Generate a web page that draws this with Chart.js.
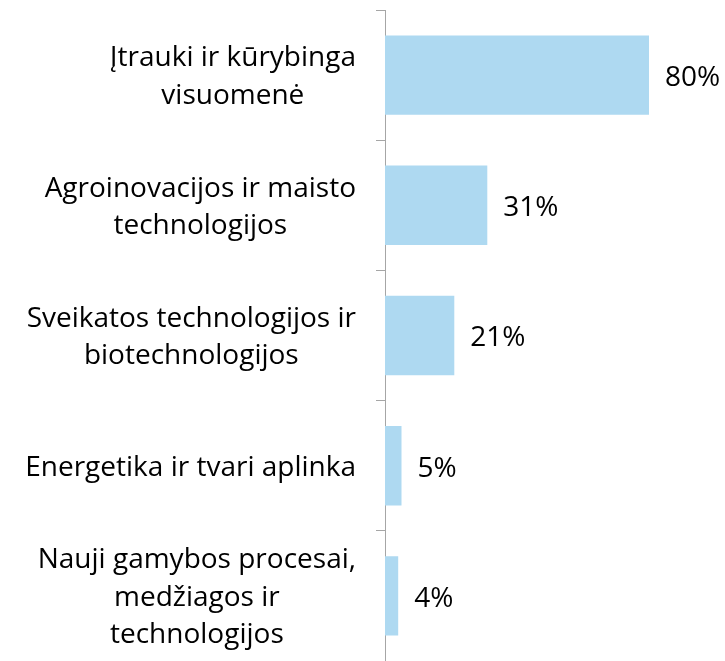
<!DOCTYPE html>
<html>
<head>
<meta charset="utf-8">
<script src="https://cdn.jsdelivr.net/npm/chart.js@4.4.0/dist/chart.umd.min.js"></script>
<style>
  html, body { margin: 0; padding: 0; background: #fff; }
  #wrap { width: 725px; height: 661px; }
</style>
</head>
<body>
<div id="wrap"><canvas id="sritys"></canvas></div>
<script>
// Sritys ir jų dalis procentais
let sritys = [
    ["Įtrauki ir kūrybinga", "visuomenė"],
    ["Agroinovacijos ir maisto", "technologijos"],
    ["Sveikatos technologijos ir", "biotechnologijos"],
    ["Energetika ir tvari aplinka"],
    ["Nauji gamybos procesai,", "medžiagos ir", "technologijos"]
];
let procentai = [80, 31, 21, 5, 4];
let asiesMax = 100;

let sriftas = "'Open Sans', sans-serif";
let sriftoDydis = 28;

// kategoriju pavadinimai: eilutes centruotos bloke, blokas prie desines
const pavadinimai = {
    id: "pavadinimai",
    afterDraw(chart) {
        let ctx = chart.ctx;
        let y = chart.scales.y;
        ctx.save();
        ctx.font = sriftoDydis + "px " + sriftas;
        ctx.fillStyle = "#000";
        ctx.textAlign = "center";
        ctx.textBaseline = "middle";
        let desine = y.right - 29;
        let eilAukstis = 37.5;
        sritys.forEach(function(eil, i) {
            let plotis = 0;
            eil.forEach(function(t) { plotis = Math.max(plotis, ctx.measureText(t).width); });
            let cx = desine - plotis / 2;
            let cy = y.getPixelForValue(i) + 2 - (eil.length - 1) * eilAukstis / 2;
            eil.forEach(function(t, j) { ctx.fillText(t, cx, cy + j * eilAukstis); });
        });
        ctx.restore();
    }
};

// reiksmes uz stulpeliu
const reiksmes = {
    id: "reiksmes",
    afterDatasetsDraw(chart) {
        let ctx = chart.ctx;
        let meta = chart.getDatasetMeta(0);
        ctx.save();
        ctx.font = sriftoDydis + "px " + sriftas;
        ctx.fillStyle = "#000";
        ctx.textAlign = "left";
        ctx.textBaseline = "middle";
        meta.data.forEach(function(bar, i) {
            ctx.fillText(procentai[i] + "%", bar.x + 16, bar.y + 3);
        });
        ctx.restore();
    }
};

new Chart("sritys", {
    type: "bar",
    data: {
        labels: sritys,
        datasets: [{
            backgroundColor: "#aed9f1",
            data: procentai,
            categoryPercentage: 1,
            barPercentage: 0.61
        }]
    },
    options: {
        indexAxis: "y",
        responsive: true,
        maintainAspectRatio: false,
        animation: false,
        layout: { padding: { top: 10, right: 10, bottom: 0, left: 0 } },
        plugins: {
            legend: { display: false },
            tooltip: { enabled: false }
        },
        scales: {
            x: {
                display: false,
                min: 0,
                max: asiesMax
            },
            y: {
                ticks: { display: false },
                grid: {
                    drawOnChartArea: false,
                    drawTicks: true,
                    tickLength: 9,
                    color: "#a6a6a6"
                },
                border: { color: "#a6a6a6", width: 1 },
                afterFit(scale) { scale.width = 385; }
            }
        }
    },
    plugins: [pavadinimai, reiksmes]
});
</script>
</body>
</html>
